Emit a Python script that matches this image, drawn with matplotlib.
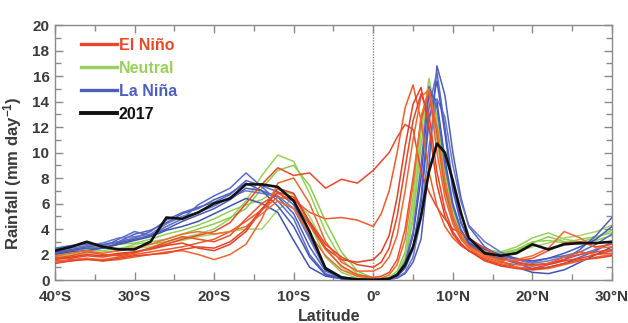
import matplotlib
matplotlib.use("Agg")
import matplotlib.pyplot as plt
from matplotlib.lines import Line2D
from matplotlib.ticker import MultipleLocator

plt.rcParams['font.family'] = ['Liberation Sans', 'DejaVu Sans']
plt.rcParams['mathtext.fontset'] = 'custom'
plt.rcParams['mathtext.rm'] = 'Liberation Sans'
plt.rcParams['mathtext.bf'] = 'Liberation Sans:bold'
plt.rcParams['mathtext.default'] = 'regular'

# Latitude grid (negative = south)
lat = [-40, -38, -36, -34, -32, -30, -28, -26, -24, -22,
       -20, -18, -16, -14, -12, -10, -8, -6, -4, -2,
       0, 1, 2, 3, 4, 5, 6, 7, 8, 9,
       10, 11, 12, 14, 16, 18, 20, 22, 24, 26,
       28, 30]

el_nino = [
    [1.8, 1.7, 1.9, 1.8, 2.0, 2.2, 2.5, 2.8, 3.2, 3.5,
     3.8, 4.5, 6.0, 7.5, 8.8, 8.2, 8.4, 7.2, 7.9, 7.6,
     8.6, 9.3, 10.0, 11.2, 12.2, 11.8, 8.5, 6.9, 5.7, 4.8,
     4.0, 3.7, 3.3, 2.5, 1.8, 1.4, 1.2, 1.3, 1.6, 2.0,
     2.2, 2.4],
    [1.5, 1.6, 1.7, 1.6, 1.8, 2.0, 2.2, 2.4, 2.6, 2.9,
     3.2, 3.8, 4.6, 5.5, 6.5, 6.3, 5.3, 4.8, 4.9, 4.7,
     4.2, 5.2, 7.0, 10.0, 13.5, 15.3, 12.5, 8.5, 5.8, 4.2,
     3.3, 2.7, 2.3, 1.8, 1.4, 1.2, 1.1, 1.3, 1.8, 2.2,
     2.0, 2.1],
    [1.6, 1.8, 2.0, 1.9, 2.1, 2.2, 2.4, 2.7, 2.9, 2.5,
     2.3, 2.8, 3.8, 5.5, 7.2, 6.8, 4.5, 2.5, 1.6, 1.4,
     1.6, 2.2, 3.5, 6.5, 10.5, 13.8, 15.1, 12.0, 7.5, 5.0,
     3.6, 2.8, 2.3, 1.6, 1.2, 1.0, 0.9, 1.2, 1.5, 1.7,
     2.0, 2.3],
    [1.4, 1.5, 1.7, 1.5, 1.6, 1.8, 2.0, 2.2, 2.3, 2.0,
     1.6, 2.0, 2.8, 4.8, 7.6, 8.0, 6.0, 3.0, 1.4, 0.7,
     0.7, 1.0, 1.8, 3.5, 7.0, 11.0, 14.4, 14.9, 10.0, 6.5,
     4.4, 3.2, 2.5, 1.7, 1.3, 1.0, 0.8, 0.9, 1.2, 1.5,
     1.8, 2.0],
    [1.7, 1.9, 2.2, 2.0, 1.9, 2.1, 2.5, 3.0, 3.4, 3.2,
     3.0, 3.5, 4.8, 6.0, 6.8, 6.2, 4.3, 2.4, 1.1, 0.4,
     0.2, 0.3, 0.6, 1.6, 4.0, 8.0, 12.5, 14.8, 11.5, 7.2,
     4.8, 3.4, 2.7, 2.0, 1.6, 1.5, 1.7, 2.3, 2.9, 3.0,
     2.6, 2.8],
    [1.9, 2.1, 2.3, 2.1, 2.3, 2.5, 2.8, 3.2, 3.6, 3.8,
     3.6, 3.8, 4.2, 5.2, 6.2, 5.6, 3.6, 1.9, 0.8, 0.3,
     0.1, 0.15, 0.4, 1.2, 3.2, 7.5, 12.8, 15.0, 12.0, 7.8,
     5.0, 3.5, 2.6, 1.9, 1.5, 1.6, 1.9, 2.5, 3.8, 3.3,
     2.5, 2.6],
    [1.3, 1.5, 1.6, 1.5, 1.7, 1.9, 2.0, 2.1, 2.4, 2.6,
     2.5, 3.0, 4.0, 5.6, 6.9, 6.5, 4.6, 2.8, 1.8, 1.2,
     1.0, 1.4, 2.5, 5.0, 8.8, 12.5, 14.6, 13.0, 8.5, 5.5,
     3.8, 2.9, 2.3, 1.5, 1.1, 0.9, 0.8, 1.0, 1.3, 1.6,
     1.7, 1.9],
]

neutral = [
    [1.8, 2.0, 2.4, 2.3, 2.5, 2.6, 2.8, 3.0, 3.3, 3.6,
     4.0, 4.8, 6.2, 8.2, 9.8, 9.3, 6.8, 3.8, 1.6, 0.5,
     0.1, 0.05, 0.1, 0.4, 1.5, 5.0, 11.5, 15.8, 12.5, 8.0,
     5.2, 3.6, 2.8, 2.4, 2.2, 2.6, 3.3, 3.7, 3.2, 3.0,
     3.3, 3.9],
    [2.0, 2.2, 2.5, 2.6, 2.4, 2.8, 3.0, 3.2, 3.6, 4.0,
     4.4, 4.9, 5.6, 7.2, 8.6, 9.0, 7.4, 4.6, 2.2, 0.7,
     0.15, 0.1, 0.2, 0.7, 2.2, 6.5, 12.8, 14.8, 11.0, 7.0,
     4.6, 3.3, 2.6, 2.2, 2.0, 2.3, 2.9, 3.4, 3.0, 2.8,
     3.1, 3.5],
    [1.7, 1.9, 2.1, 2.2, 2.3, 2.5, 2.6, 2.9, 3.1, 3.4,
     3.6, 3.8, 4.0, 4.0, 5.5, 6.4, 5.0, 2.6, 1.0, 0.3,
     0.08, 0.05, 0.12, 0.5, 1.8, 5.8, 12.0, 14.5, 11.5, 7.5,
     4.8, 3.4, 2.6, 2.1, 1.9, 2.2, 2.6, 2.9, 3.3, 3.5,
     3.8, 4.3],
    [2.2, 2.3, 2.7, 2.5, 2.8, 2.9, 3.2, 3.6, 3.9, 4.3,
     4.8, 5.4, 5.9, 6.3, 7.1, 6.7, 4.4, 1.8, 0.6, 0.15,
     0.05, 0.05, 0.1, 0.5, 1.6, 4.8, 10.5, 15.0, 12.8, 8.6,
     5.6, 3.8, 2.9, 2.3, 2.1, 2.4, 3.0, 3.1, 2.9, 3.2,
     3.4, 3.7],
]

la_nina = [
    [2.2, 2.4, 2.6, 2.8, 3.0, 3.6, 3.9, 4.5, 5.2, 5.6,
     6.3, 6.8, 7.6, 7.0, 6.5, 5.2, 2.6, 0.7, 0.15, 0.05,
     0.02, 0.02, 0.05, 0.15, 0.5, 1.4, 3.2, 9.0, 16.8, 14.5,
     10.0, 6.5, 4.2, 2.6, 1.8, 1.4, 1.1, 1.3, 1.6, 2.4,
     3.5, 4.9],
    [2.5, 2.7, 2.8, 2.6, 3.2, 3.8, 3.5, 4.2, 4.8, 5.9,
     6.6, 7.2, 8.4, 7.3, 6.2, 4.8, 2.0, 0.5, 0.1, 0.03,
     0.02, 0.03, 0.08, 0.3, 0.9, 2.4, 6.5, 13.5, 16.3, 12.0,
     7.5, 4.6, 3.0, 2.2, 1.9, 1.6, 1.4, 1.7, 1.9, 2.2,
     2.8, 3.6],
    [2.0, 2.2, 2.3, 2.5, 2.8, 3.1, 3.4, 3.9, 4.2, 4.6,
     5.2, 5.8, 6.4, 6.0, 5.3, 3.1, 1.0, 0.3, 0.1, 0.02,
     0.02, 0.05, 0.1, 0.4, 1.2, 3.5, 8.0, 14.8, 14.0, 9.5,
     6.0, 4.0, 2.9, 2.1, 1.5, 1.0, 0.6, 0.5, 0.8, 1.4,
     2.0, 2.6],
    [2.3, 2.5, 2.7, 2.9, 3.3, 3.4, 3.6, 4.4, 5.0, 5.3,
     5.8, 6.5, 7.0, 6.8, 6.6, 5.6, 3.2, 0.8, 0.2, 0.05,
     0.02, 0.02, 0.05, 0.2, 0.6, 1.8, 4.8, 10.5, 14.2, 12.8,
     9.0, 6.2, 4.3, 3.0, 2.2, 1.6, 1.3, 1.5, 1.8, 2.0,
     2.4, 2.9],
    [2.1, 2.3, 2.5, 2.5, 2.9, 3.2, 3.5, 4.0, 4.6, 5.1,
     5.6, 6.3, 7.2, 7.0, 5.8, 4.2, 1.8, 0.4, 0.1, 0.03,
     0.02, 0.04, 0.1, 0.35, 1.0, 2.6, 6.0, 12.5, 15.6, 11.5,
     7.0, 4.5, 3.2, 2.4, 2.0, 1.7, 1.5, 1.7, 2.1, 2.6,
     3.2, 4.2],
    [2.4, 2.6, 2.9, 2.7, 3.0, 3.3, 3.8, 4.7, 5.3, 5.7,
     6.1, 6.7, 7.8, 7.4, 6.9, 5.9, 3.4, 1.0, 0.25, 0.05,
     0.03, 0.05, 0.12, 0.45, 1.4, 3.8, 9.0, 15.2, 13.5, 9.0,
     5.8, 3.9, 2.8, 2.0, 1.7, 1.3, 0.9, 1.0, 1.3, 1.8,
     2.3, 3.0],
]

y2017 = [2.3, 2.6, 3.0, 2.6, 2.4, 2.4, 3.0, 4.9, 4.8, 5.3,
         6.0, 6.4, 7.5, 7.5, 7.3, 6.2, 3.8, 0.9, 0.2, 0.05,
         0.02, 0.05, 0.1, 0.4, 1.2, 2.6, 5.0, 8.5, 10.7, 10.0,
         7.8, 5.3, 3.3, 2.1, 1.9, 2.1, 2.8, 2.4, 2.8, 2.9,
         2.9, 3.0]

xticks = [-40, -30, -20, -10, 0, 10, 20, 30]
xticklabels = ['40°S', '30°S', '20°S', '10°S', '0°', '10°N', '20°N', '30°N']
yticks = [0, 2, 4, 6, 8, 10, 12, 14, 16, 18, 20]
legend_labels = ['El Niño', 'Neutral', 'La Niña', '2017']

red_shades = ['#e8482a', '#ee5a2c', '#e33e26', '#f0652f', '#e9512b', '#f26a32', '#e44428']
green_shades = ['#98d05a', '#8ccb4e', '#a4d66a', '#93ce55']
blue_shades = ['#4d5fbd', '#5a6ac4', '#3f52b2', '#6877c9', '#4658b8', '#5566c0']

fig = plt.figure(figsize=(6.28, 3.23), dpi=100)
ax = fig.add_axes([0.0876, 0.1331, 0.8869, 0.7895])

for s, c in zip(neutral, green_shades):
    ax.plot(lat, s, color=c, lw=1.1, zorder=2)
for s, c in zip(la_nina, blue_shades):
    ax.plot(lat, s, color=c, lw=1.1, zorder=3)
for s, c in zip(el_nino, red_shades):
    ax.plot(lat, s, color=c, lw=1.1, zorder=4)
ax.plot(lat, y2017, color='#111111', lw=1.9, zorder=5)

ax.axvline(0, color='#888888', lw=1.0, ls=(0, (1, 1)), zorder=1)

ax.set_xlim(-40, 30)
ax.set_ylim(0, 20)
ax.set_xticks(xticks)
ax.set_xticklabels(xticklabels)
ax.xaxis.set_minor_locator(MultipleLocator(5))
ax.set_yticks(yticks)
ax.yaxis.set_minor_locator(MultipleLocator(1))

grey = '#8a8a8a'
for sp in ax.spines.values():
    sp.set_color(grey)
    sp.set_linewidth(1.0)
ax.tick_params(which='both', direction='in', top=True, right=True, color=grey, width=1.0)
ax.tick_params(which='major', length=6)
ax.tick_params(which='minor', length=4)
ax.tick_params(axis='x', which='major', pad=7)
ax.tick_params(axis='y', which='major', pad=4)
for lab in ax.get_xticklabels() + ax.get_yticklabels():
    lab.set_fontsize(11)
    lab.set_fontweight('bold')
    lab.set_color('#3a3a3a')

ax.set_xlabel('Latitude', fontsize=11.5, fontweight='bold', color='#3a3a3a')
ax.xaxis.set_label_coords(0.492, -0.112)
ax.set_ylabel('Rainfall (mm day$^{-1}$)', fontsize=12, fontweight='bold', color='#3a3a3a')
ax.yaxis.set_label_coords(-0.056, 0.42)

handles = [Line2D([], [], color='#e8482a', lw=2.4),
           Line2D([], [], color='#98d05a', lw=2.4),
           Line2D([], [], color='#4d5fbd', lw=2.4),
           Line2D([], [], color='#111111', lw=2.8)]
leg = ax.legend(handles, legend_labels, loc='upper left', bbox_to_anchor=(0.036, 0.975),
                frameon=False, handlelength=2.2, handletextpad=0.15, labelspacing=0.5,
                borderaxespad=0, prop={'weight': 'bold', 'size': 11.5},
                labelcolor=['#e8482a', '#98d05a', '#4d5fbd', '#111111'])

fig.savefig('out.png', dpi=100)
